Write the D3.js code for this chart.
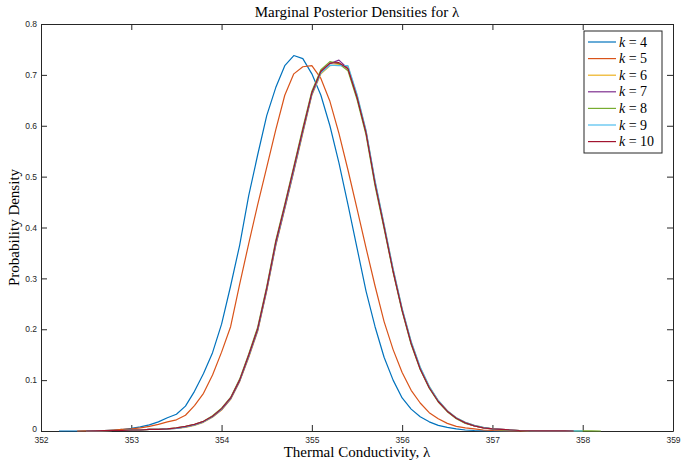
<!DOCTYPE html>
<html>
<head>
<meta charset="utf-8">
<script src="https://cdn.jsdelivr.net/npm/d3@7"></script>
<style>
  html, body { margin: 0; padding: 0; background: #fff; }
  svg { display: block; }
</style>
</head>
<body>
<svg id="chart" width="682" height="460"></svg>
<script>
// ---------- data ----------
const lambdaGrid = [352.2,352.3,352.4,352.5,352.6,352.7,352.8,352.9,353.0,353.1,353.2,353.3,353.4,353.5,353.6,353.7,353.8,353.9,354.0,354.1,354.2,354.3,354.4,354.5,354.6,354.7,354.8,354.9,355.0,355.1,355.2,355.3,355.4,355.5,355.6,355.7,355.8,355.9,356.0,356.1,356.2,356.3,356.4,356.5,356.6,356.7,356.8,356.9,357.0,357.1,357.2,357.3,357.4,357.5,357.6,357.7,357.8,357.9,358.0,358.1,358.2];

const k4  = [0,0,0,0.0005,0.001,0.001,0.002,0.003,0.005,0.008,0.012,0.018,0.026,0.033,0.049,0.078,0.113,0.154,0.210,0.285,0.365,0.462,0.543,0.620,0.675,0.718,0.738,0.732,0.702,0.660,0.600,0.527,0.445,0.360,0.275,0.205,0.145,0.100,0.065,0.043,0.028,0.018,0.011,0.007,0.004,0.002,0.001,0.0005,0,0,0,0,null,null,null,null,null,null,null,null,null];
const k5  = [null,null,0,0.0003,0.0005,0.001,0.002,0.003,0.004,0.006,0.009,0.013,0.018,0.022,0.031,0.050,0.074,0.110,0.155,0.205,0.288,0.368,0.445,0.518,0.592,0.660,0.702,0.716,0.718,0.693,0.648,0.585,0.513,0.437,0.360,0.285,0.215,0.160,0.115,0.080,0.055,0.036,0.024,0.015,0.009,0.006,0.004,0.002,0.001,0.0005,0,0,0,null,null,null,null,null,null,null,null];
const k6  = [null,null,null,0,0.0003,0.0006,0.001,0.001,0.002,0.002,0.003,0.003,0.004,0.005,0.007,0.011,0.017,0.027,0.041,0.062,0.097,0.144,0.196,0.275,0.364,0.436,0.510,0.585,0.660,0.702,0.718,0.720,0.716,0.660,0.590,0.490,0.405,0.318,0.240,0.175,0.125,0.088,0.060,0.040,0.026,0.017,0.011,0.007,0.004,0.003,0.002,0.001,0.0005,0.0003,0.0002,0.0002,0.0001,0,null,null,null];
const k7  = [null,null,null,0,0.0003,0.0005,0.001,0.001,0.002,0.002,0.003,0.003,0.004,0.005,0.008,0.012,0.018,0.028,0.042,0.063,0.098,0.146,0.198,0.277,0.366,0.438,0.512,0.588,0.662,0.705,0.722,0.729,0.712,0.656,0.588,0.488,0.402,0.315,0.238,0.173,0.123,0.086,0.059,0.039,0.025,0.016,0.010,0.006,0.004,0.003,0.002,0.001,0.0005,0.0003,0.0002,0.0002,0.0001,0,null,null,null];
const k8  = [null,null,null,0,0.0003,0.0006,0.001,0.001,0.002,0.002,0.003,0.003,0.004,0.006,0.009,0.013,0.019,0.030,0.045,0.066,0.102,0.151,0.204,0.284,0.374,0.446,0.520,0.596,0.668,0.710,0.726,0.722,0.708,0.652,0.582,0.482,0.398,0.312,0.235,0.170,0.121,0.084,0.057,0.038,0.024,0.015,0.010,0.006,0.004,0.002,0.0015,0.001,0.0005,0.0003,0.0002,0.0002,0.0002,0.0002,0.0002,0.0001,0];
const k9  = [null,null,null,0,0.0003,0.0005,0.001,0.001,0.002,0.002,0.003,0.003,0.004,0.005,0.008,0.012,0.018,0.028,0.043,0.064,0.099,0.147,0.199,0.279,0.368,0.440,0.514,0.589,0.663,0.704,0.719,0.718,0.718,0.662,0.591,0.492,0.406,0.319,0.241,0.176,0.126,0.088,0.060,0.040,0.026,0.017,0.011,0.007,0.004,0.003,0.002,0.001,0.0005,0.0003,0.0002,0.0002,0.0001,0.0001,0,null,null];
const k10 = [null,null,null,0,0.0003,0.0006,0.001,0.001,0.002,0.002,0.003,0.003,0.004,0.006,0.009,0.013,0.019,0.029,0.044,0.065,0.100,0.149,0.201,0.281,0.371,0.443,0.517,0.592,0.665,0.707,0.723,0.724,0.712,0.656,0.586,0.486,0.401,0.314,0.237,0.172,0.122,0.085,0.058,0.039,0.025,0.016,0.010,0.006,0.004,0.003,0.002,0.001,0.0005,0.0003,0.0002,0.0002,0.0001,0,null,null,null];

const seriesLabels = ["4","5","6","7","8","9","10"];
const seriesValues = [k4, k5, k6, k7, k8, k9, k10];
const seriesColors = ["#0072BD","#D95319","#EDB120","#7E2F8E","#77AC30","#4DBEEE","#A2142F"];

const xTicks = [352,353,354,355,356,357,358,359];
const yTicks = [0,0.1,0.2,0.3,0.4,0.5,0.6,0.7,0.8];
const titleText = "Marginal Posterior Densities for λ";
const xLabelText = "Thermal Conductivity, λ";
const yLabelText = "Probability Density";

// ---------- layout ----------
const svg = d3.select("#chart");
const L = 41, R = 673, T = 24, B = 431;
const x = d3.scaleLinear().domain([352, 359]).range([L, R]);
const y = d3.scaleLinear().domain([0, 0.8]).range([B, T]);
const axisColor = "#262626";
const tickFont = "'Liberation Sans', Arial, sans-serif";
const serif = "'Liberation Serif', 'Times New Roman', serif";

const line = d3.line()
  .defined(d => d[1] !== null)
  .x(d => x(d[0]))
  .y(d => y(d[1]));

const gAxes = svg.append("g");

// axes with inward ticks (box on all four sides)
const xAxisB = d3.axisBottom(x).tickValues(xTicks).tickSize(-6).tickSizeOuter(0).tickPadding(6).tickFormat(d3.format("d"));
const xAxisT = d3.axisTop(x).tickValues(xTicks).tickSize(-6).tickSizeOuter(0).tickFormat("");
const yAxisL = d3.axisLeft(y).tickValues(yTicks).tickSize(-6).tickSizeOuter(0).tickPadding(4).tickFormat(d => d === 0 ? "0" : d3.format(".1f")(d));
const yAxisR = d3.axisRight(y).tickValues(yTicks).tickSize(-6).tickSizeOuter(0).tickFormat("");

function styleAxis(g) {
  g.selectAll(".domain").attr("stroke", axisColor).attr("stroke-width", 1);
  g.selectAll(".tick line").attr("stroke", axisColor).attr("stroke-width", 1);
  g.selectAll(".tick text").attr("fill", axisColor).style("font-family", tickFont).style("font-size", "8.5px");
}
gAxes.append("g").attr("transform", `translate(0,${B})`).call(xAxisB).call(styleAxis);
gAxes.append("g").attr("transform", `translate(0,${T})`).call(xAxisT).call(styleAxis);
const gy = gAxes.append("g").attr("transform", `translate(${L},0)`).call(yAxisL).call(styleAxis);
gAxes.append("g").attr("transform", `translate(${R},0)`).call(yAxisR).call(styleAxis);
// lift the "0" label slightly so it does not collide with "352"
gy.selectAll(".tick").filter(d => d === 0).select("text").attr("dy", "0.1em");

// density curves
const gLines = svg.append("g");
seriesValues.forEach((vals, i) => {
  const pts = lambdaGrid.map((lx, j) => [lx, vals[j]]);
  gLines.append("path")
    .datum(pts)
    .attr("d", line)
    .attr("fill", "none")
    .attr("stroke", seriesColors[i])
    .attr("stroke-width", 1.2)
    .attr("stroke-linejoin", "round");
});

// title & labels
svg.append("text").attr("x", (L + R) / 2).attr("y", 17)
  .attr("text-anchor", "middle").style("font-family", serif).style("font-size", "15px")
  .attr("fill", "#000").text(titleText);
svg.append("text").attr("x", (L + R) / 2).attr("y", 457)
  .attr("text-anchor", "middle").style("font-family", serif).style("font-size", "15px")
  .attr("fill", "#000").text(xLabelText);
svg.append("text").attr("transform", `translate(19,${(T + B) / 2}) rotate(-90)`)
  .attr("text-anchor", "middle").style("font-family", serif).style("font-size", "15px")
  .attr("fill", "#000").text(yLabelText);

// legend
const legX = 584, legY = 31, legW = 78, legH = 122, rowH = 16.6;
const leg = svg.append("g");
leg.append("rect").attr("x", legX).attr("y", legY).attr("width", legW).attr("height", legH)
  .attr("fill", "#fff").attr("stroke", axisColor).attr("stroke-width", 1);
seriesLabels.forEach((lab, i) => {
  const cy = legY + 11 + i * rowH;
  leg.append("line").attr("x1", legX + 4).attr("x2", legX + 32).attr("y1", cy).attr("y2", cy)
    .attr("stroke", seriesColors[i]).attr("stroke-width", 1.2);
  const t = leg.append("text").attr("x", legX + 35).attr("y", cy + 4.5)
    .style("font-family", serif).style("font-size", "14px").attr("fill", "#000");
  t.append("tspan").style("font-style", "italic").text("k");
  t.append("tspan").text(" = " + lab);
});
</script>
</body>
</html>
